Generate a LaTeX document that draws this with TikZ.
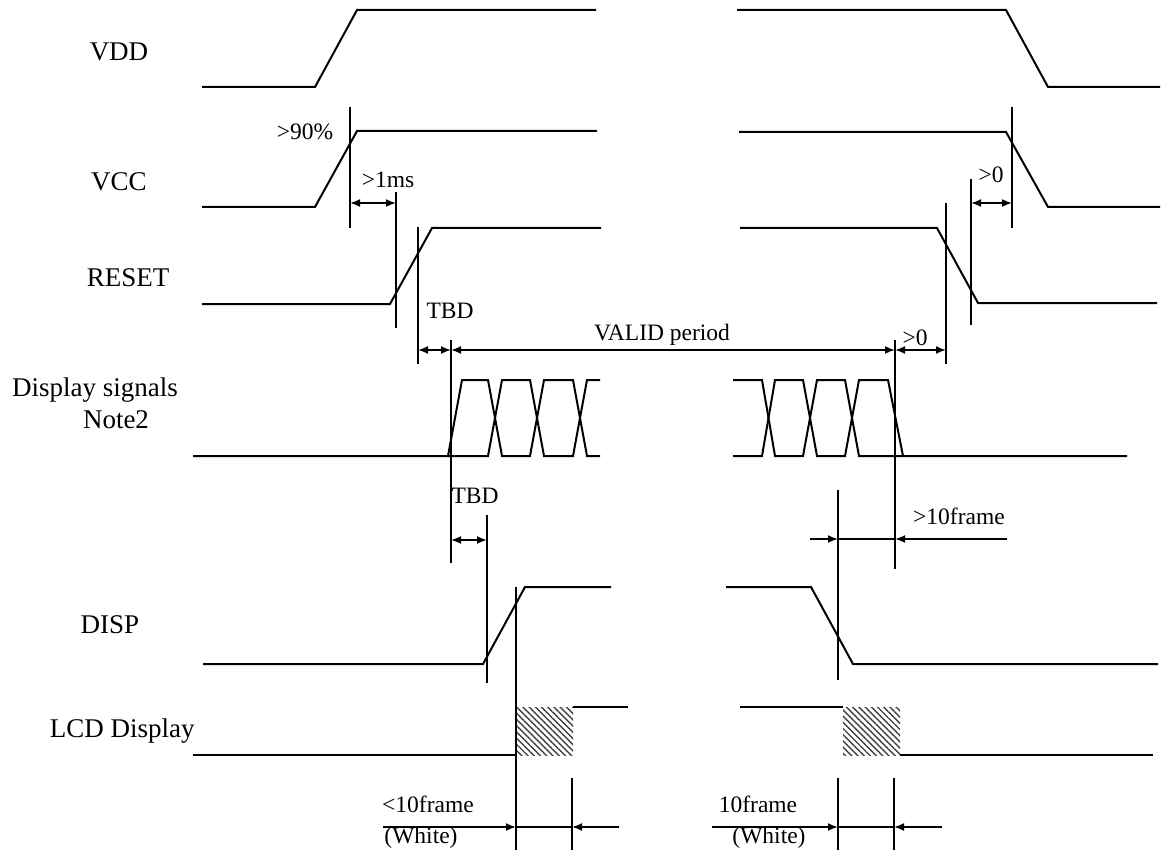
\documentclass[tikz,border=0pt]{standalone}
\usepackage{fontspec}
\setmainfont{Liberation Serif}
\usetikzlibrary{arrows.meta, patterns.meta}

\begin{document}
\begin{tikzpicture}[
    x=0.5pt, y=-0.5pt,
    % Styles
    wave/.style={line width=1pt, line join=miter},
    tick/.style={line width=0.9pt},
    dim/.style={line width=0.9pt, {Latex[length=5pt,width=4pt]}-{Latex[length=5pt,width=4pt]}},
    dimto/.style={line width=0.9pt, -{Latex[length=5pt,width=4pt]}},
    signame/.style={font=\fontsize{13.5}{16}\selectfont, inner sep=0pt},
    note/.style={font=\fontsize{11.75}{14}\selectfont, inner sep=0pt},
    hatch/.style={pattern={Lines[angle=-45, distance=2.2pt, line width=0.7pt]}, pattern color=black!75},
]
\useasboundingbox (0,0) rectangle (1161,850);

% === Signal names ===
\node[signame] (nvdd) at (119,52) {VDD};
\node[signame] (nvcc) at (119,182) {VCC};
\node[signame] (nrst) at (128,278) {RESET};
\node[signame] (ndsp) at (95,390) {Display signals};
\node[signame] (nnote) at (116,420) {Note2};
\node[signame] (ndisp) at (110,625) {DISP};
\node[signame, anchor=east] (nlcd) at (195,731) {LCD Display};

% === VDD ===
\draw[wave] (202,87) -- (315,87) -- (357,10) -- (596,10);
\draw[wave] (737,10) -- (1006,10) -- (1048,87) -- (1160,87);

% === VCC ===
\draw[wave] (202,207) -- (315,207) -- (357,131) -- (597,131);
\draw[wave] (739,132) -- (1006,132) -- (1048,207) -- (1160,207);

% === RESET ===
\draw[wave] (202,304) -- (390,304) -- (432,228) -- (601,228);
\draw[wave] (740,228) -- (937,228) -- (978,303) -- (1157,303);

% === Display signals ===
\draw[wave] (193,456) -- (448,456) -- (462,380) -- (488,380) -- (502,456) -- (530,456)
    -- (544,380) -- (573,380) -- (587,456) -- (600,456);
\draw[wave] (448,456) -- (488,456) -- (502,380) -- (530,380) -- (544,456) -- (573,456)
    -- (587,380) -- (600,380);
\draw[wave] (733,380) -- (762,380) -- (775,456) -- (803,456) -- (817,380) -- (845,380)
    -- (859,456) -- (1127,456);
\draw[wave] (733,456) -- (762,456) -- (775,380) -- (803,380) -- (817,456) -- (845,456)
    -- (859,380) -- (888,380) -- (903,456);

% === DISP ===
\draw[wave] (203,664) -- (483,664) -- (525,587) -- (611,587);
\draw[wave] (726,587) -- (811,587) -- (853,664) -- (1158,664);

% === LCD Display ===
\fill[hatch] (516,707) rectangle (573,755);
\fill[hatch] (843,707) rectangle (900,755);
\draw[wave] (193,755) -- (516,755);
\draw[wave] (573,707) -- (628,707);
\draw[wave] (740,707) -- (843,707);
\draw[wave] (900,755) -- (1153,755);

% === Marker lines ===
\coordinate (m1) at (350,203);
\coordinate (m2) at (396,203);
\coordinate (m3) at (418,350);
\coordinate (m4) at (451,350);
\coordinate (m5) at (895,350);
\coordinate (m6) at (946,350);
\coordinate (m7) at (971,203);
\coordinate (m8) at (1012,203);
\coordinate (m9) at (451,540);
\coordinate (m10) at (487,540);
\coordinate (m11) at (838,539);
\coordinate (m12) at (895,539);
\coordinate (m13) at (516,827);
\coordinate (m14) at (572,827);
\coordinate (m15) at (838,827);
\coordinate (m16) at (894,827);

\draw[tick] (350,107) -- (350,228);
\draw[tick] (1012,107) -- (1012,228);
\draw[tick] (396,192) -- (396,328);
\draw[tick] (418,227) -- (418,364);
\draw[tick] (946,203) -- (946,364);
\draw[tick] (971,179) -- (971,325);
\draw[tick] (451,340) -- (451,563);
\draw[tick] (895,340) -- (895,569);
\draw[tick] (487,515) -- (487,683);
\draw[tick] (838,490) -- (838,680);
\draw[tick] (516,587) -- (516,850);
\draw[tick] (572,778) -- (572,850);
\draw[tick] (838,778) -- (838,850);
\draw[tick] (894,778) -- (894,850);

% === Timing arrows ===
\draw[dim] (m1) -- (m2);
\draw[dim] (m7) -- (m8);
\draw[dim] (m3) -- (m4);
\draw[dim] (m4) -- (m5);
\draw[dim] (m5) -- (m6);
\draw[dim] (m9) -- (m10);
\coordinate (a1) at (810,539);
\coordinate (a2) at (1007,539);
\draw[dimto] (a1) -- (m11);
\draw[tick] (m11) -- (m12);
\draw[dimto] (a2) -- (m12);
\coordinate (a3) at (383,827);
\coordinate (a4) at (619,827);
\draw[dimto] (a3) -- (m13);
\draw[tick] (m13) -- (m14);
\draw[dimto] (a4) -- (m14);
\coordinate (a5) at (712,827);
\coordinate (a6) at (942,827);
\draw[dimto] (a5) -- (m15);
\draw[tick] (m15) -- (m16);
\draw[dimto] (a6) -- (m16);

% === Timing labels ===
\node[note] (l90) at (305,132) {>90\%};
\node[note] (l1ms) at (388,180) {>1ms};
\node[note] (l0a) at (991,175) {>0};
\node[note] (ltbd1) at (450,311) {TBD};
\node[note] (lvalid) at (662,335) {VALID period};
\node[note] (l0b) at (915,338) {>0};
\node[note] (ltbd2) at (475,496) {TBD};
\node[note] (l10f) at (959,516) {>10frame};
\node[note] (llt10) at (428,804) {<10frame};
\node[note] (lw1) at (421,838) {(White)};
\node[note] (l10) at (758,804) {10frame};
\node[note] (lw2) at (769,838) {(White)};

\end{tikzpicture}
\end{document}
